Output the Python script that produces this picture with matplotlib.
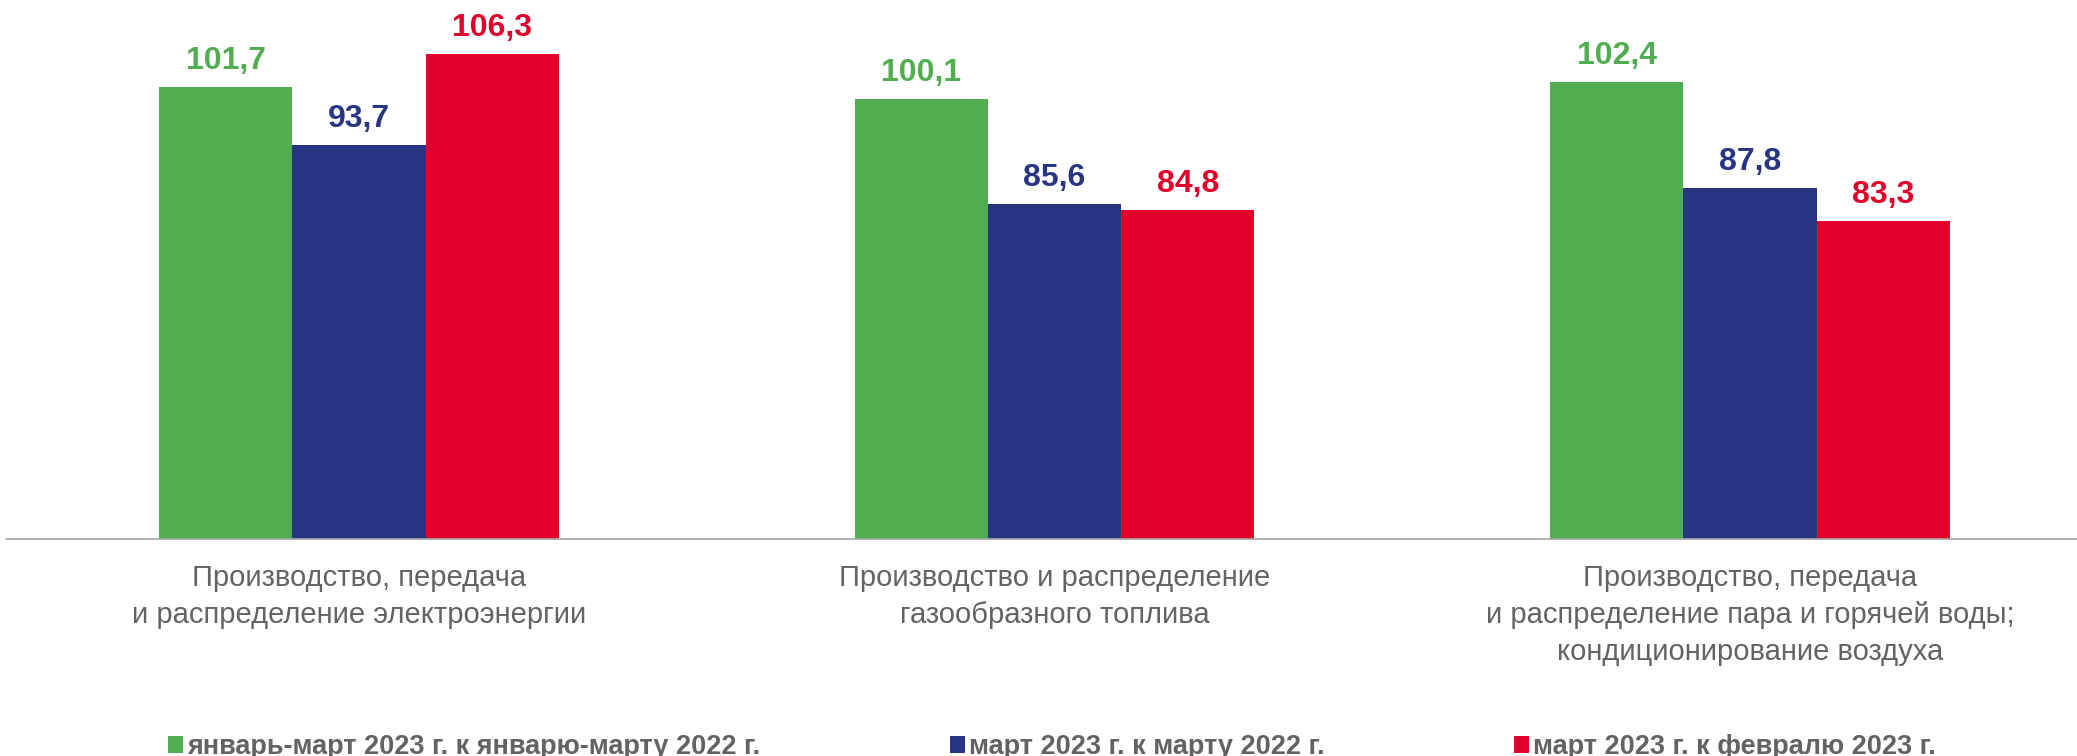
import numpy as np
import matplotlib.pyplot as plt

plt.rcParams['font.family'] = ['Liberation Sans', 'DejaVu Sans']

categories = [
    'Производство, передача\nи распределение электроэнергии',
    'Производство и распределение\nгазообразного топлива',
    'Производство, передача\nи распределение пара и горячей воды;\nкондиционирование воздуха',
]
series_names = [
    'январь-март 2023 г. к январю-марту 2022 г.',
    'март 2023 г. к марту 2022 г.',
    'март 2023 г. к февралю 2023 г.',
]
jan_mar = [101.7, 100.1, 102.4]
mar_mar = [93.7, 85.6, 87.8]
mar_feb = [106.3, 84.8, 83.3]
colors = ['#50AE50', '#283583', '#E2002B']

W, H = 2077, 756
fig = plt.figure(figsize=(W / 100, H / 100), dpi=100)
ax = fig.add_axes([6 / W, (H - 539) / H, (W - 6) / W, 539 / H])

index = np.arange(len(categories))
bar_width = 0.1916
series = [jan_mar, mar_mar, mar_feb]
handles = []
for i, (vals, col, name) in enumerate(zip(series, colors, series_names)):
    x = index + (i - 1) * bar_width
    b = ax.bar(x, vals, bar_width, color=col, label=name, zorder=2)
    handles.append(b)
    for xi, v in zip(x, vals):
        ax.annotate(f'{v:.1f}'.replace('.', ','), (xi, v), xytext=(0, 13),
                    textcoords='offset points', ha='center', va='baseline',
                    fontsize=23, fontweight='bold', color=col)

ax.set_ylim(39.4, 113.74)
ax.set_xlim(-0.5076, 2.470)
ax.set_yticks([])
ax.set_xticks([])
# category labels under each group
for xi, lab in zip(index, categories):
    ax.annotate(lab, (xi, 0), xycoords=('data', 'axes fraction'),
                xytext=(0, -18), textcoords='offset points',
                ha='center', va='top', fontsize=21, color='#636363',
                linespacing=1.4)
for s in ['top', 'left', 'right']:
    ax.spines[s].set_visible(False)
ax.spines['bottom'].set_color('#A6A6A6')
ax.spines['bottom'].set_linewidth(1.2)
ax.spines['bottom'].set_zorder(3)

fig.legend(handles=handles, labels=series_names, loc='center',
           bbox_to_anchor=(1052 / W, 1 - 747 / H), ncol=3, frameon=False,
           prop={'size': 19.5, 'weight': 'bold'}, labelcolor='#636363',
           handlelength=0.55, handleheight=0.55, handletextpad=0.15,
           columnspacing=7.0)

fig.savefig('out.png', dpi=100)
